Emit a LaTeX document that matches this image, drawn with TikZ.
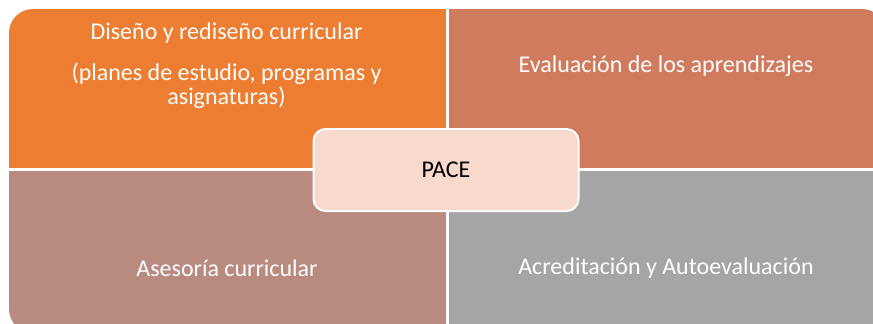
\documentclass[tikz,border=0pt]{standalone}
\usepackage{fontspec}
\setmainfont{Carlito}
\definecolor{cOrange}{RGB}{237,125,49}
\definecolor{cTerra}{RGB}{209,123,94}
\definecolor{cRose}{RGB}{185,138,128}
\definecolor{cGrey}{RGB}{165,165,165}
\definecolor{cPace}{RGB}{248,217,205}
\tikzset{
  qtext/.style={text=white, font=\fontsize{24}{24}\selectfont, align=center, inner sep=0pt},
  pacebox/.style={rectangle, rounded corners=12pt, fill=cPace, draw=white, line width=2pt,
    minimum width=265pt, minimum height=82pt, font=\fontsize{24}{24}\selectfont, text=black}
}
\begin{document}
\begin{tikzpicture}[x=1pt,y=-1pt]
\useasboundingbox (0,0) rectangle (873,324);
\fill[white] (0,0) rectangle (873,324);
\begin{scope}
  \clip[rounded corners=24pt] (9,9) rectangle (886,333);
  \fill[cOrange] (9,9) rectangle (446,168);
  \fill[cTerra] (449,9) rectangle (886,168);
  \fill[cRose] (9,171) rectangle (446,333);
  \fill[cGrey] (449,171) rectangle (886,333);
\end{scope}
\node[qtext] (t1) at (226.5,33) {Diseño y rediseño curricular};
\node[qtext] (t1b) at (226.5,86) {(planes de estudio, programas y\\asignaturas)};
\node[qtext] (t2) at (666,66) {Evaluación de los aprendizajes};
\node[qtext] (t3) at (227,268) {Asesoría curricular};
\node[qtext] (t4) at (666,268) {Acreditación y Autoevaluación};
\node[pacebox] (pace) at (446,170) {PACE};
\end{tikzpicture}
\end{document}
